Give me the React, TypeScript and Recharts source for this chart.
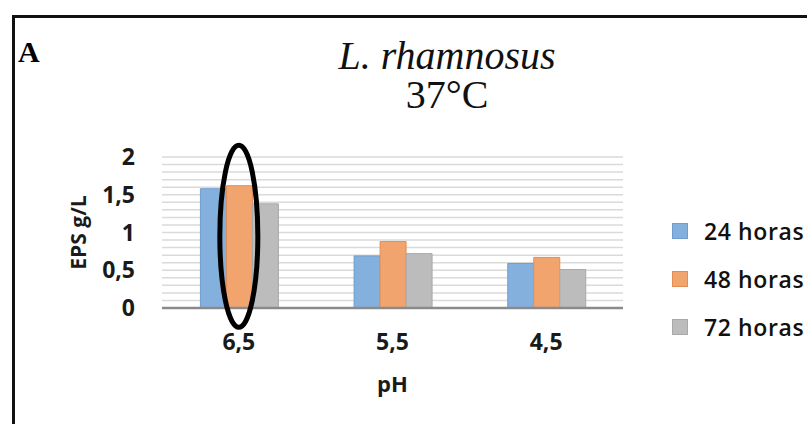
import React from "react";
import {
  BarChart,
  Bar,
  XAxis,
  YAxis,
  CartesianGrid,
  Legend,
  ReferenceDot,
} from "recharts";

const categories = ["6,5", "5,5", "4,5"];
const horas24 = [1.58, 0.69, 0.59];
const horas48 = [1.62, 0.88, 0.67];
const horas72 = [1.38, 0.72, 0.51];
// labelled ticks; the grid has a line every 0.1
const labelTicks = [0, 0.5, 1, 1.5, 2];
const gridTicks = [
  0, 0.1, 0.2, 0.3, 0.4, 0.5, 0.6, 0.7, 0.8, 0.9, 1, 1.1, 1.2, 1.3, 1.4, 1.5,
  1.6, 1.7, 1.8, 1.9, 2,
];
const seriesNames = ["24 horas", "48 horas", "72 horas"];

// highlighted group (ellipse around the 48 h bar)
const markedCategory = "6,5";
const markedCenter = 0.95;

const data = categories.map((ph, i) => ({
  ph,
  h24: horas24[i],
  h48: horas48[i],
  h72: horas72[i],
}));

const tickFont = {
  fontFamily: "'Open Sans', sans-serif",
  fontSize: 23,
  fontWeight: 700,
  fill: "#1a1a1a",
};

const fmt = (v: number) =>
  labelTicks.some((t) => Math.abs(t - v) < 1e-6)
    ? String(v).replace(".", ",")
    : "";

function LegendBox({ payload }: any) {
  return (
    <div style={{ fontFamily: "'Open Sans', sans-serif" }}>
      {(payload || []).map((p: any) => (
        <div
          key={p.value}
          style={{ display: "flex", alignItems: "center", height: 48 }}
        >
          <span
            style={{
              display: "inline-block",
              width: 14,
              height: 14,
              background: p.color,
              border: "1px solid " + (p.payload?.stroke || p.color),
              marginRight: 16,
            }}
          />
          <span
            style={{
              fontSize: 23,
              fontWeight: 600,
              color: "#111",
              letterSpacing: 0.6,
              whiteSpace: "nowrap",
            }}
          >
            {p.value}
          </span>
        </div>
      ))}
    </div>
  );
}

function Ellipse(props: any) {
  const { cx, cy } = props;
  return (
    <ellipse
      cx={cx}
      cy={cy}
      rx={19}
      ry={91}
      fill="none"
      stroke="#000"
      strokeWidth={5}
    />
  );
}

export default function App() {
  return (
    <div
      style={{
        position: "fixed",
        left: 0,
        top: 0,
        width: 807,
        height: 424,
        overflow: "hidden",
        background: "#fff",
      }}
    >
      <div
        style={{
          position: "absolute",
          left: 12,
          top: 15,
          width: 900,
          height: 500,
          border: "3px solid #111",
        }}
      />
      <div
        style={{
          position: "absolute",
          left: 18,
          top: 37,
          fontFamily: "'Liberation Serif', serif",
          fontWeight: 700,
          fontSize: 30,
          lineHeight: "30px",
        }}
      >
        A
      </div>
      <div
        style={{
          position: "absolute",
          left: 247,
          width: 400,
          top: 36,
          textAlign: "center",
          fontFamily: "'Liberation Serif', serif",
          fontSize: 40,
          lineHeight: "39px",
          color: "#111",
        }}
      >
        <div style={{ fontStyle: "italic" }}>L. rhamnosus</div>
        <div>37°C</div>
      </div>
      <BarChart
        width={807}
        height={424}
        data={data}
        margin={{ top: 157, right: 184, left: 102, bottom: 86 }}
        barCategoryGap="25%"
        barGap={0}
        style={{ position: "absolute", left: 0, top: 0 }}
      >
        <CartesianGrid vertical={false} stroke="#dadada" strokeWidth={1.5} />
        <XAxis
          dataKey="ph"
          height={30}
          tick={tickFont}
          tickLine={false}
          tickMargin={20}
          axisLine={{ stroke: "#8a8a8a", strokeWidth: 2.5 }}
          label={{
            value: "pH",
            position: "center",
            dy: 61,
            style: { ...tickFont, fontSize: 22 },
          }}
        />
        <YAxis
          width={60}
          domain={[0, 2]}
          ticks={gridTicks}
          interval={0}
          tickFormatter={fmt}
          tick={tickFont}
          tickLine={false}
          axisLine={false}
          tickMargin={21}
          label={{
            value: "EPS g/L",
            angle: -90,
            position: "center",
            dx: -53,
            style: { ...tickFont, fontSize: 21 },
          }}
        />
        <Legend
          layout="horizontal"
          align="center"
          verticalAlign="middle"
          wrapperStyle={{ left: 672, top: 207, width: 150 }}
          content={<LegendBox />}
        />
        <Bar
          dataKey="h24"
          name={seriesNames[0]}
          fill="#84b0de"
          stroke="#6f9dd0"
          strokeWidth={1}
          isAnimationActive={false}
        />
        <Bar
          dataKey="h48"
          name={seriesNames[1]}
          fill="#f2a46f"
          stroke="#e38d55"
          strokeWidth={1}
          isAnimationActive={false}
        />
        <Bar
          dataKey="h72"
          name={seriesNames[2]}
          fill="#bcbcbc"
          stroke="#a9a9a9"
          strokeWidth={1}
          isAnimationActive={false}
        />
        <ReferenceDot
          x={markedCategory}
          y={markedCenter}
          ifOverflow="visible"
          shape={<Ellipse />}
        />
      </BarChart>
    </div>
  );
}
